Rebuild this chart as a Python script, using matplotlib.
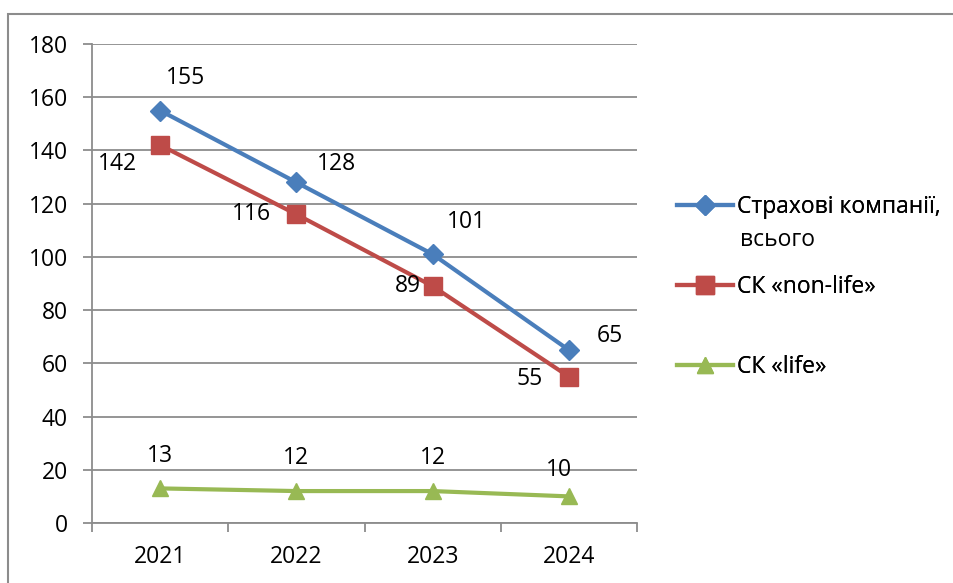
import matplotlib
matplotlib.use("Agg")
from matplotlib import pyplot as plt
from matplotlib.lines import Line2D
from matplotlib.patches import Rectangle

years = ["2021", "2022", "2023", "2024"]
total = [155, 128, 101, 65]
non_life = [142, 116, 89, 55]
life = [13, 12, 12, 10]

names = ["Страхові компанії,", "СК «non-life»", "СК «life»"]
colors = ["#4A7EBB", "#BE4B48", "#98B954"]
markers = ["D", "s", "^"]
sizes = [10.5, 13, 12]

# label offsets in pixels (dx, dy)
total_off = [(25, 33), (40, 18), (34, 32), (41, 14)]
non_life_off = [(-43, -19), (-45, 0), (-25, 0), (-39, -2)]
life_off = [(0, 32), (0, 33), (0, 33), (-10, 26)]

FS = 16.5
plt.rcParams['font.family'] = ['Open Sans', 'DejaVu Sans']
plt.rcParams['font.size'] = FS

W, H = 954, 583
fig = plt.figure(figsize=(W / 100, H / 100), dpi=100)
ax = fig.add_axes([92 / W, 1 - 523 / H, (637 - 92) / W, (523 - 44) / H])

fig.patches.append(Rectangle((8.5 / W, -0.1), 1.1, (1 - 13.5 / H) + 0.1,
                             transform=fig.transFigure, fill=False,
                             edgecolor="#8c8c8c", lw=1.5))

x = list(range(len(years)))
series = [(total, total_off), (non_life, non_life_off), (life, life_off)]
for i, (vals, offs) in enumerate(series):
    ax.plot(x, vals, color=colors[i], lw=3.0, marker=markers[i], ms=sizes[i],
            markeredgecolor=colors[i], zorder=3)
    for xi, v, (dx, dy) in zip(x, vals, offs):
        ax.annotate(str(v), (xi, v), xytext=(dx, dy), textcoords="offset pixels",
                    ha="center", va="center", fontsize=FS, zorder=4)

ax.set_xlim(-0.5, 3.5)
ax.set_ylim(0, 180)
ax.set_yticks(range(0, 181, 20))
ax.set_xticks(x)
ax.set_xticklabels(years)
ax.set_xticks([-0.5, 0.5, 1.5, 2.5, 3.5], minor=True)
ax.tick_params(axis="x", which="major", length=0, pad=16)
ax.tick_params(axis="x", which="minor", length=6.5, color="#8c8c8c", width=1.3)
ax.tick_params(axis="y", length=6.5, color="#8c8c8c", width=1.3, pad=11)
ax.grid(axis="y", color="#8c8c8c", lw=1.3)
ax.set_axisbelow(True)
for s in ["top", "right"]:
    ax.spines[s].set_visible(False)
for s in ["left", "bottom"]:
    ax.spines[s].set_color("#8c8c8c")
    ax.spines[s].set_linewidth(1.3)

# legend entries placed one by one
rows = [207, 287, 367]
for i in range(3):
    h = Line2D([], [], color=colors[i], lw=3.0, marker=markers[i],
               ms=sizes[i], markeredgecolor=colors[i])
    leg = fig.legend([h], [names[i]], loc="center left",
                     bbox_to_anchor=(677 / W, 1 - rows[i] / H),
                     frameon=False, fontsize=FS, handlelength=2.45,
                     handletextpad=0.17, borderpad=0, borderaxespad=0)
    fig.add_artist(leg)
fig.text(740 / W, 1 - 240 / H, "всього", fontsize=FS, va="center", ha="left")

fig.savefig("out.png", dpi=100)
